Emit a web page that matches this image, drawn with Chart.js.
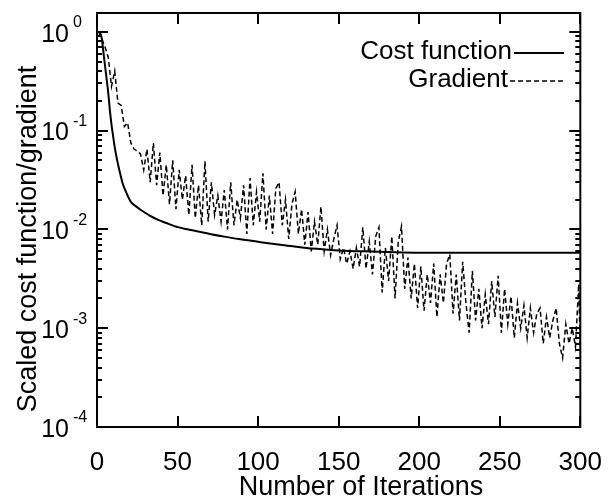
<!DOCTYPE html>
<html>
<head>
<meta charset="utf-8">
<script src="https://cdn.jsdelivr.net/npm/chart.js@4"></script>
<style>
  html, body { margin: 0; padding: 0; background: #fff; }
  canvas { display: block; }
</style>
</head>
<body>
<canvas id="chart" width="614" height="500"></canvas>
<script>
// --- data ---
const costIter = [1, 2, 3, 4, 5, 6, 7, 8, 9, 10, 11, 12, 13, 14, 16, 18, 21, 24, 27, 30, 33, 38, 43, 48,
  55, 62, 70, 80, 90, 100, 110, 120, 130, 140, 150, 165, 180, 200, 230, 260, 300];
const costValue = [1.0, 0.97, 0.85, 0.62, 0.45, 0.33, 0.24, 0.16, 0.115, 0.088, 0.068, 0.055, 0.046, 0.039,
  0.029, 0.024, 0.019, 0.0172, 0.0158, 0.0147, 0.0137, 0.0125, 0.0116, 0.0108,
  0.0101, 0.0096, 0.0090, 0.0084, 0.0079, 0.0075, 0.0071, 0.0068, 0.0065, 0.0063, 0.0061, 0.0060, 0.0059, 0.0058, 0.0058, 0.0058, 0.0058];

const gradIter = [1, 3, 5, 7, 9, 11, 13, 15, 17, 19, 21, 23, 25, 27, 29, 31, 33, 35, 37, 39,
  41, 43, 45, 47, 49, 51, 53, 55, 57, 59, 61, 63, 65, 67, 69, 71, 73, 75, 77, 79,
  81, 83, 85, 87, 89, 91, 93, 95, 97, 99, 101, 103, 105, 107, 109, 111, 113, 115, 117, 119,
  121, 123, 125, 127, 129, 131, 133, 135, 137, 139, 141, 143, 145, 147, 149, 151, 153, 155, 157, 159,
  161, 163, 165, 167, 169, 171, 173, 175, 177, 179, 181, 183, 185, 187, 189, 191, 193, 195, 197, 199,
  201, 203, 205, 207, 209, 211, 213, 215, 217, 219, 221, 223, 225, 227, 229, 231, 233, 235, 237, 239,
  241, 243, 245, 247, 249, 251, 253, 255, 257, 259, 261, 263, 265, 267, 269, 271, 273, 275, 277, 279,
  281, 283, 285, 287, 289, 291, 293, 295, 297, 299, 300];
const gradValue = [1.0, 0.85, 0.7, 0.55, 0.28, 0.4, 0.19, 0.18, 0.11, 0.12, 0.075, 0.065, 0.062, 0.058, 0.04, 0.065, 0.03, 0.075, 0.028, 0.06,
  0.022, 0.045, 0.018, 0.05, 0.016, 0.04, 0.02, 0.035, 0.014, 0.045, 0.013, 0.028, 0.011, 0.049, 0.012, 0.03, 0.014, 0.022, 0.012, 0.025,
  0.010, 0.03, 0.011, 0.02, 0.013, 0.028, 0.009, 0.033, 0.011, 0.024, 0.012, 0.037, 0.010, 0.022, 0.009, 0.026, 0.03, 0.011, 0.02, 0.008,
  0.018, 0.024, 0.009, 0.016, 0.007, 0.015, 0.006, 0.012, 0.007, 0.017, 0.006, 0.010, 0.0055, 0.008, 0.011, 0.005, 0.0065, 0.0045, 0.006, 0.004,
  0.0065, 0.0042, 0.0105, 0.004, 0.0075, 0.0035, 0.0085, 0.0105, 0.0023, 0.0065, 0.003, 0.0085, 0.002, 0.0075, 0.0107, 0.0025, 0.0052, 0.002, 0.0045, 0.0016,
  0.0042, 0.0015, 0.0035, 0.0018, 0.0045, 0.0013, 0.0035, 0.0018, 0.0045, 0.0056, 0.0014, 0.0035, 0.0012, 0.0047, 0.0018, 0.0009, 0.0038, 0.0012, 0.0025, 0.0010,
  0.0022, 0.0011, 0.003, 0.0013, 0.0034, 0.0009, 0.0025, 0.0011, 0.0021, 0.0008, 0.0018, 0.0010, 0.0017, 0.0008, 0.0016, 0.0009, 0.0014, 0.0016, 0.0007, 0.0013,
  0.0008, 0.0012, 0.0016, 0.0007, 0.0005, 0.0011, 0.0007, 0.0010, 0.00065, 0.0028, 0.0006];

const xTicks = [0, 50, 100, 150, 200, 250, 300];
const yDecades = [-4, -3, -2, -1, 0];
const seriesNames = ['Cost function', 'Gradient'];
const xTitle = 'Number of Iterations';
const yTitle = 'Scaled cost function/gradient';

const FONT = '"Liberation Sans", Arial, Helvetica, sans-serif';

// frame, inward ticks, y labels with superscript, axis titles, legend
const decorations = {
  id: 'decorations',
  afterDatasetsDraw(chart) {
    const { ctx, chartArea: a, scales: { x, y } } = chart;
    ctx.save();
    ctx.strokeStyle = '#000';
    ctx.lineWidth = 2;
    ctx.strokeRect(a.left, a.top, a.right - a.left, a.bottom - a.top);

    ctx.beginPath();
    xTicks.forEach(v => {
      const px = Math.round(x.getPixelForValue(v));
      ctx.moveTo(px, a.bottom); ctx.lineTo(px, a.bottom - 11);
      ctx.moveTo(px, a.top); ctx.lineTo(px, a.top + 11);
    });
    yDecades.forEach(k => {
      for (let m = 1; m <= 9; m++) {
        const v = m * Math.pow(10, k);
        if (v < y.min || v > y.max) continue;
        const py = Math.round(y.getPixelForValue(v));
        const len = m === 1 ? 11 : 5;
        ctx.moveTo(a.left, py); ctx.lineTo(a.left + len, py);
        ctx.moveTo(a.right, py); ctx.lineTo(a.right - len, py);
      }
    });
    ctx.stroke();

    ctx.fillStyle = '#000';
    ctx.textBaseline = 'middle';
    yDecades.forEach(k => {
      const py = y.getPixelForValue(Math.pow(10, k));
      ctx.font = '25px ' + FONT;
      ctx.textAlign = 'right';
      ctx.fillText('10', 69, py + 3);
      ctx.font = '16px ' + FONT;
      ctx.textAlign = 'left';
      ctx.fillText(String(k), 73, py - 9);
    });

    // axis titles (sit a little off the plot centre in the original)
    ctx.font = '27px ' + FONT;
    ctx.textAlign = 'center';
    ctx.textBaseline = 'alphabetic';
    ctx.fillText(xTitle, 361, 495);
    ctx.save();
    ctx.translate(36, 239);
    ctx.rotate(-Math.PI / 2);
    ctx.fillText(yTitle, 0, 0);
    ctx.restore();

    // legend: text then a line sample
    ctx.textBaseline = 'middle';
    const rows = [{ y: 52, textRight: 512, x0: 514 }, { y: 80, textRight: 508, x0: 510 }];
    rows.forEach((r, i) => {
      const ds = chart.data.datasets[i];
      ctx.font = '26px ' + FONT;
      ctx.textAlign = 'right';
      ctx.fillText(seriesNames[i], r.textRight, r.y);
      ctx.beginPath();
      ctx.lineWidth = ds.borderWidth;
      ctx.setLineDash(ds.borderDash || []);
      ctx.moveTo(r.x0, r.y + 1); ctx.lineTo(564, r.y + 1);
      ctx.stroke();
      ctx.setLineDash([]);
    });
    ctx.restore();
  }
};

new Chart(document.getElementById('chart'), {
  type: 'line',
  data: {
    datasets: [
      {
        label: seriesNames[0],
        data: costIter.map((it, i) => ({ x: it, y: costValue[i] })),
        borderColor: '#000',
        borderWidth: 2,
        pointRadius: 0,
        cubicInterpolationMode: 'monotone',
        fill: false
      },
      {
        label: seriesNames[1],
        data: gradIter.map((it, i) => ({ x: it, y: gradValue[i] })),
        borderColor: '#000',
        borderWidth: 1.5,
        borderDash: [5, 3],
        pointRadius: 0,
        tension: 0,
        fill: false
      }
    ]
  },
  options: {
    responsive: false,
    animation: false,
    devicePixelRatio: 1,
    layout: { padding: { top: 13, right: 23, left: 0, bottom: 0 } },
    plugins: { legend: { display: false }, tooltip: { enabled: false } },
    scales: {
      x: {
        type: 'linear',
        min: 0,
        max: 300,
        afterBuildTicks: s => { s.ticks = xTicks.map(v => ({ value: v })); },
        afterFit: s => { s.height = 73; },
        grid: { display: false },
        border: { display: false },
        ticks: { color: '#000', font: { family: FONT, size: 26 }, padding: 12, maxRotation: 0 }
      },
      y: {
        type: 'logarithmic',
        min: 1e-4,
        max: 1.55,
        afterFit: s => { s.width = 97; },
        grid: { display: false },
        border: { display: false },
        ticks: { display: false }
      }
    }
  },
  plugins: [decorations]
});
</script>
</body>
</html>
